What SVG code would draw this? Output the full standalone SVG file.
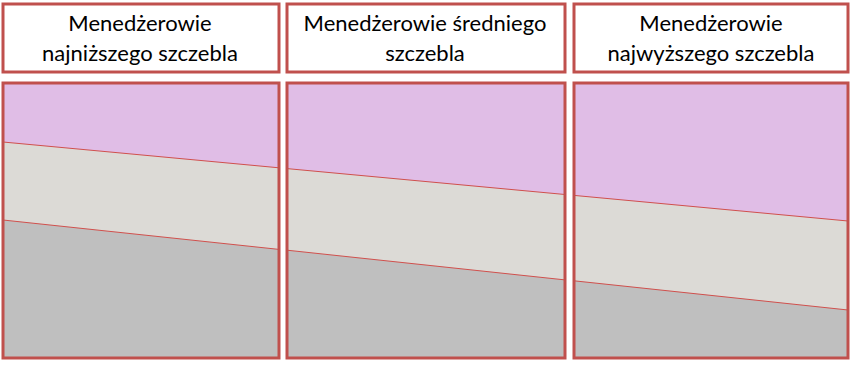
<svg xmlns="http://www.w3.org/2000/svg" width="862" height="369" viewBox="0 0 862 369">
<style>
.hdr{fill:#ffffff;stroke:#c0504d;stroke-width:3}
.frame{fill:none;stroke:#c0504d;stroke-width:3}
.top{fill:#e0bde6}
.mid{fill:#dcdad6}
.bot{fill:#bfbfbf}
.ln{stroke:#d0504d;stroke-width:1;fill:none}
.t{font-family:Lato,"Liberation Sans",sans-serif;font-size:22px;fill:#000;text-anchor:middle}
</style>
<g id="header-low">
<rect class="hdr" x="3" y="4" width="276" height="68"/>
<text class="t" x="140" y="31">Menedżerowie</text>
<text class="t" x="140" y="61">najniższego szczebla</text>
</g>
<g id="header-mid">
<rect class="hdr" x="287" y="4" width="278" height="68"/>
<text class="t" x="425" y="31">Menedżerowie średniego</text>
<text class="t" x="425" y="61">szczebla</text>
</g>
<g id="header-top">
<rect class="hdr" x="574" y="4" width="274" height="68"/>
<text class="t" x="711" y="31">Menedżerowie</text>
<text class="t" x="711" y="61">najwyższego szczebla</text>
</g>
<g id="body-low">
<rect class="top" x="3" y="83" width="276" height="275"/>
<polygon class="mid" points="3,142 279,167.8 279,358 3,358"/>
<polygon class="bot" points="3,220 279,249.4 279,358 3,358"/>
<line class="ln" x1="3" y1="142" x2="279" y2="167.8"/>
<line class="ln" x1="3" y1="220" x2="279" y2="249.4"/>
<rect class="frame" x="3" y="83" width="276" height="275"/>
</g>
<g id="body-mid">
<rect class="top" x="287" y="83" width="278" height="275"/>
<polygon class="mid" points="287,168.6 565,194.5 565,358 287,358"/>
<polygon class="bot" points="287,250.2 565,279.9 565,358 287,358"/>
<line class="ln" x1="287" y1="168.6" x2="565" y2="194.5"/>
<line class="ln" x1="287" y1="250.2" x2="565" y2="279.9"/>
<rect class="frame" x="287" y="83" width="278" height="275"/>
</g>
<g id="body-top">
<rect class="top" x="574" y="83" width="274" height="275"/>
<polygon class="mid" points="574,195.4 848,221 848,358 574,358"/>
<polygon class="bot" points="574,280.8 848,310 848,358 574,358"/>
<line class="ln" x1="574" y1="195.4" x2="848" y2="221"/>
<line class="ln" x1="574" y1="280.8" x2="848" y2="310"/>
<rect class="frame" x="574" y="83" width="274" height="275"/>
</g>
<g id="connectors"></g>
</svg>
